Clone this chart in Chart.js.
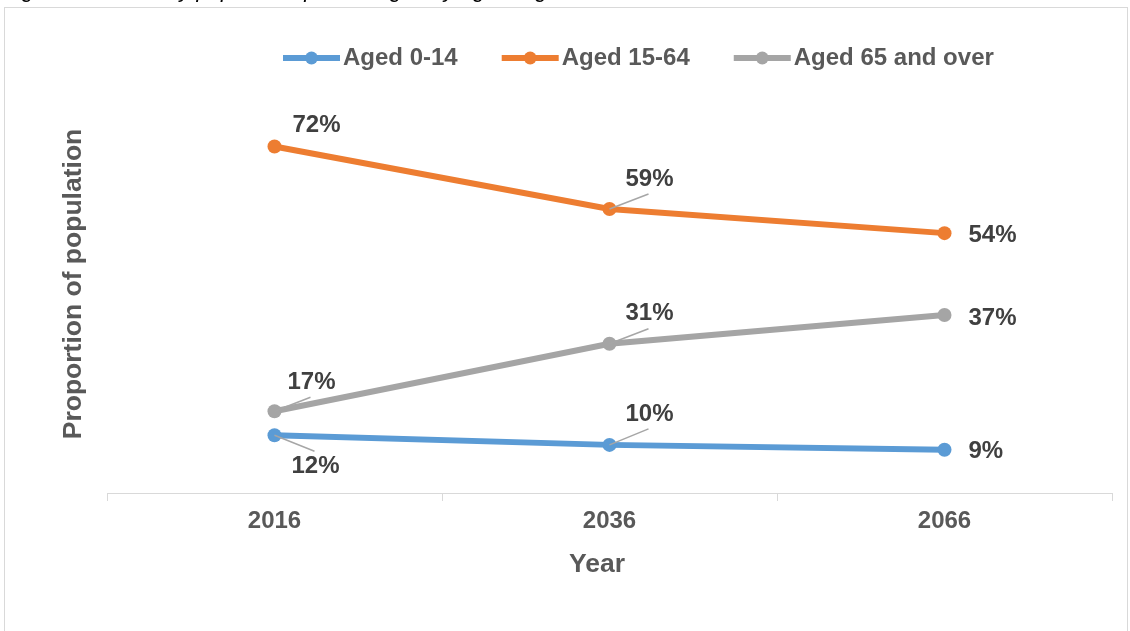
<!DOCTYPE html>
<html>
<head>
<meta charset="utf-8">
<title>Population by age range</title>
<script src="https://cdn.jsdelivr.net/npm/chart.js@4.4.0/dist/chart.umd.min.js"></script>
<style>
    html, body { margin: 0; padding: 0; background: #fff; }
    body { width: 1130px; height: 631px; overflow: hidden; position: relative; }
    .frame { position: absolute; left: 4px; top: 7px; width: 1124px; height: 700px; border: 1px solid #d9d9d9; box-sizing: border-box; }
    #chart { position: absolute; left: 0; top: 0; }
</style>
</head>
<body>
<div class="frame"></div>
<canvas id="chart" width="1130" height="631"></canvas>
<script>
const years = ['2016', '2036', '2066'];
const aged0to14 = [12, 10, 9];
const aged15to64 = [72, 59, 54];
const aged65plus = [17, 31, 37];
const seriesNames = ['Aged 0-14', 'Aged 15-64', 'Aged 65 and over'];

const FONT = '"Liberation Sans", Arial, sans-serif';
const TEXT_DARK = '#404040';
const TEXT_GREY = '#595959';

// label offset from point: [dx, dy, align, leader line]
const labelPlacement = [
    [[41, 31, 'center', true], [40, -31, 'center', true], [24, 2, 'left', false]],
    [[42, -21, 'center', false], [40, -30, 'center', true], [24, 2, 'left', false]],
    [[37, -29, 'center', true], [40, -30, 'center', true], [24, 3, 'left', false]]
];

const extrasPlugin = {
    id: 'extras',
    afterDatasetsDraw(chart) {
        const ctx = chart.ctx;
        ctx.save();

        // caption cut off at the top, only the descenders show
        ctx.font = 'italic 22px ' + FONT;
        ctx.fillStyle = '#000';
        ctx.textAlign = 'right';
        ctx.textBaseline = 'alphabetic';
        ctx.fillText('Figure 1: Summary population percentages by age range from 2006', 665, -3);

        // data labels
        chart.data.datasets.forEach((ds, i) => {
            const meta = chart.getDatasetMeta(i);
            meta.data.forEach((pt, j) => {
                const [dx, dy, align, leader] = labelPlacement[i][j];
                const lx = pt.x + dx;
                const ly = pt.y + dy;
                if (leader) {
                    ctx.strokeStyle = '#a6a6a6';
                    ctx.lineWidth = 1.5;
                    ctx.beginPath();
                    ctx.moveTo(pt.x, pt.y);
                    ctx.lineTo(lx - 1, ly + (dy < 0 ? 15 : -15));
                    ctx.stroke();
                }
                ctx.font = 'bold 24px ' + FONT;
                ctx.fillStyle = TEXT_DARK;
                ctx.textAlign = align;
                ctx.textBaseline = 'middle';
                ctx.fillText(ds.data[j] + '%', lx, ly);
            });
        });

        // axis titles
        ctx.font = 'bold 26.5px ' + FONT;
        ctx.fillStyle = TEXT_GREY;
        ctx.textAlign = 'center';
        ctx.textBaseline = 'middle';
        ctx.fillText('Year', 597, 565);
        ctx.save();
        ctx.translate(74, 284);
        ctx.rotate(-Math.PI / 2);
        ctx.fillText('Proportion of population', 0, 0);
        ctx.restore();

        // legend
        ctx.font = 'bold 24px ' + FONT;
        let x = 283;
        const y = 58;
        chart.data.datasets.forEach(ds => {
            ctx.strokeStyle = ds.borderColor;
            ctx.lineWidth = 6;
            ctx.beginPath();
            ctx.moveTo(x, y);
            ctx.lineTo(x + 57, y);
            ctx.stroke();
            ctx.fillStyle = ds.borderColor;
            ctx.beginPath();
            ctx.arc(x + 28.5, y, 6.5, 0, Math.PI * 2);
            ctx.fill();
            ctx.fillStyle = TEXT_GREY;
            ctx.textAlign = 'left';
            ctx.fillText(ds.label, x + 60, y);
            x += 60 + ctx.measureText(ds.label).width + 44;
        });

        ctx.restore();
    }
};

function makeSeries(label, data, color) {
    return {
        label: label,
        data: data,
        borderColor: color,
        backgroundColor: color,
        borderWidth: 6,
        pointRadius: 7,
        pointHoverRadius: 7,
        pointBorderWidth: 0,
        tension: 0
    };
}

new Chart(document.getElementById('chart'), {
    type: 'line',
    data: {
        labels: years,
        datasets: [
            makeSeries(seriesNames[0], aged0to14, '#5b9bd5'),
            makeSeries(seriesNames[1], aged15to64, '#ed7d31'),
            makeSeries(seriesNames[2], aged65plus, '#a5a5a5')
        ]
    },
    options: {
        responsive: false,
        devicePixelRatio: 1,
        animation: false,
        layout: { padding: { left: 107, right: 18, top: 108, bottom: 0 } },
        plugins: {
            legend: { display: false },
            tooltip: { enabled: false }
        },
        scales: {
            x: {
                offset: true,
                grid: {
                    offset: true,
                    drawOnChartArea: false,
                    drawTicks: true,
                    tickLength: 8,
                    color: '#d9d9d9'
                },
                border: { color: '#d9d9d9', width: 1 },
                ticks: {
                    color: TEXT_GREY,
                    padding: 6,
                    font: { family: FONT, size: 24, weight: 'bold' }
                },
                afterFit(scale) { scale.height = 138; }
            },
            y: {
                display: false,
                min: 0,
                max: 80
            }
        }
    },
    plugins: [extrasPlugin]
});
</script>
</body>
</html>
